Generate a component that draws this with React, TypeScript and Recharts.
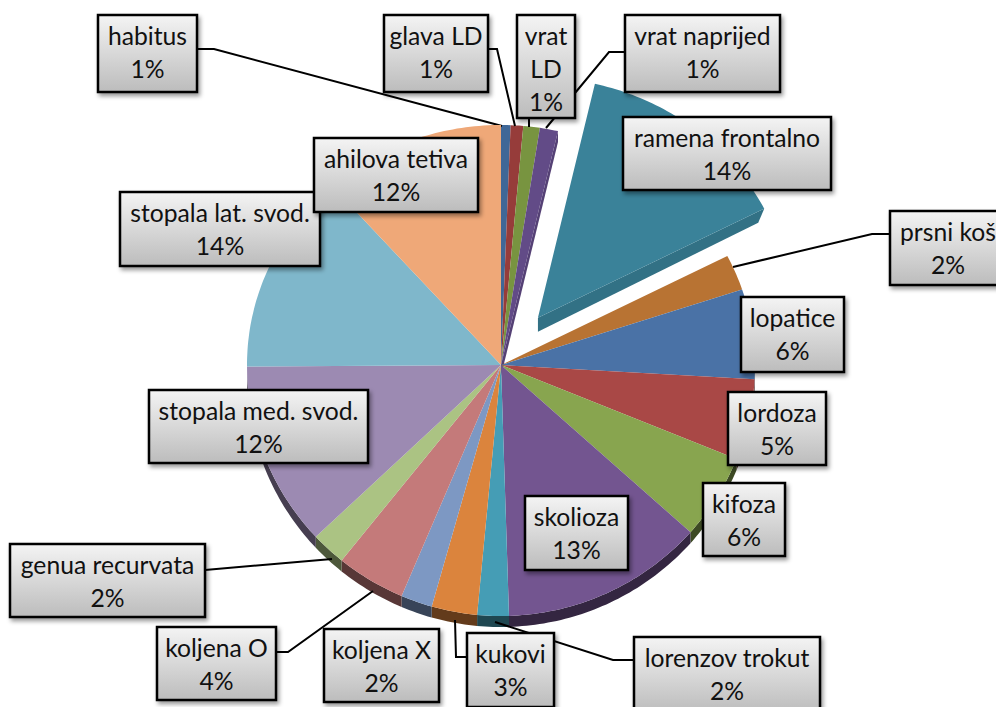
import { Pie, PieChart } from "recharts";

const NAMES = [
  "habitus", "glava LD", "vrat LD", "vrat naprijed", "ramena frontalno", "prsni koš",
  "lopatice", "lordoza", "kifoza", "skolioza", "lorenzov trokut", "kukovi",
  "koljena X", "koljena O", "genua recurvata", "stopala med. svod.", "stopala lat. svod.", "ahilova tetiva",
];
const VALUES = [0.6, 0.8, 1.05, 1.15, 13.9, 2.4, 6.0, 5.2, 5.5, 12.9, 2.0, 2.9, 2.0, 4.4, 2.2, 11.9, 13.5, 11.6];
const COLORS = [
  "#3f6797", "#963c3a", "#789440", "#624b87", "#3a8299", "#b87333",
  "#4a72a6", "#a94846", "#88a54f", "#735590", "#459db5", "#db843d",
  "#7d98c3", "#c47a7a", "#abc383", "#9c8ab2", "#7fb7cb", "#efa878",
];

const data = NAMES.map((name, i) => ({ name, value: VALUES[i] }));

// label boxes: x, y, width, height
const BOXES = [
  [98, 15, 99, 77], [384, 15, 104, 77], [517, 15, 58, 103], [625, 15, 155, 77],
  [623, 117, 208, 73], [890, 211, 116, 74], [741, 297, 103, 75], [728, 392, 98, 73],
  [703, 483, 82, 73], [525, 496, 103, 74], [634, 637, 186, 76], [467, 633, 87, 74],
  [324, 629, 115, 73], [157, 627, 119, 73], [10, 544, 195, 73], [149, 390, 219, 73],
  [120, 192, 200, 74], [314, 138, 164, 74],
];

// leader lines as polylines, only the labels that sit away from their slice
const LEADERS: Record<number, string> = {
  0: "197,49 214,49 502,126",
  1: "488,49 497,49 515,126",
  2: "529,118 529,127",
  3: "625,52 609,52 546,128",
  5: "890,234 872,234 733,267",
  10: "634,660 613,660 495,622",
  11: "467,657 456,657 455,620",
  13: "276,652 288,652 373,591",
  14: "205,570 332,559",
};

const EXPLODED = 4;
const EXPLODE_DIST = 60;
const DEPTH = 11;
const CUT_DEPTH = 14;
const RX = 254;
const RY_UP = 240;
const RY_DOWN = 251;

function shade(hex: string, f: number) {
  const n = parseInt(hex.slice(1), 16);
  const c = (s: number) => Math.round(((n >> s) & 255) * f);
  return `rgb(${c(16)},${c(8)},${c(0)})`;
}

// clock angle in degrees, 0 at the top, going clockwise
function rim(a: number) {
  const t = (a * Math.PI) / 180;
  const y = -Math.cos(t);
  return [RX * Math.sin(t), y * (y > 0 ? RY_DOWN : RY_UP)];
}

function arcPoints(a0: number, a1: number) {
  const pts: number[][] = [];
  const steps = Math.max(2, Math.ceil(a1 - a0));
  for (let i = 0; i <= steps; i++) pts.push(rim(a0 + ((a1 - a0) * i) / steps));
  return pts;
}

const toPath = (pts: number[][]) => "M" + pts.map((p) => `${p[0].toFixed(1)} ${p[1].toFixed(1)}`).join("L") + "Z";

function Slice(props: any) {
  const { cx, cy, startAngle, endAngle, fill, index } = props;
  const a0 = 90 - startAngle;
  const a1 = 90 - endAngle;
  const mid = ((a0 + a1) / 2) * (Math.PI / 180);
  const exploded = index === EXPLODED;
  const ox = cx + (exploded ? EXPLODE_DIST * Math.sin(mid) : 0);
  const oy = cy - (exploded ? EXPLODE_DIST * Math.cos(mid) : 0);

  const top = [[0, 0], ...arcPoints(a0, a1)];

  // outer wall, only on the part of the rim that faces the viewer
  const w0 = Math.max(a0, 90);
  const w1 = Math.min(a1, 270);
  let wall = null;
  if (w1 > w0) {
    const rimPts = arcPoints(w0, w1);
    const lower = rimPts.map((p) => [p[0], p[1] + DEPTH]).reverse();
    wall = <path d={toPath([...rimPts, ...lower])} fill={shade(fill, 0.45)} />;
  }

  // cut wall towards the gap left by the pulled out slice
  let cut = null;
  if (exploded || index === EXPLODED - 1) {
    const e = rim(a1);
    const d = exploded ? CUT_DEPTH : DEPTH;
    const quad = [[0, 0], e, [e[0] - (exploded ? 6 : 0), e[1] + d], [0, d]];
    cut = <path d={toPath(quad)} fill={shade(fill, 0.87)} />;
  }

  return (
    <g>
      <g transform={`translate(${ox} ${oy})`}>
        {cut}
        {wall}
        <path d={toPath(top)} fill={fill} />
      </g>
      {LEADERS[index] && <polyline points={LEADERS[index]} fill="none" stroke="#000" strokeWidth={2} />}
    </g>
  );
}

function BoxLabel(props: any) {
  const { index, value } = props;
  const [x, y, w, h] = BOXES[index];
  const name = NAMES[index];
  // the narrow box wraps its name
  const lines = name === "vrat LD" ? ["vrat", "LD"] : [name];
  const all = [...lines, `${Math.round(value)}%`];
  return (
    <g>
      <rect x={x} y={y} width={w} height={h} fill="url(#boxFill)" stroke="#000" strokeWidth={2.5} filter="url(#boxShadow)" />
      {all.map((t, i) => (
        <text
          key={i}
          x={x + w / 2}
          y={y + 30 + i * 33}
          textAnchor="middle"
          fontFamily="Lato, sans-serif"
          fontSize={24.7}
          fill="#111"
        >
          {t}
        </text>
      ))}
    </g>
  );
}

export default function App() {
  return (
    <div style={{ position: "absolute", left: 0, top: 0, width: 996, height: 707, overflow: "hidden", background: "#fff" }}>
      <PieChart width={996} height={707} margin={{ top: 0, right: 0, bottom: 0, left: 0 }}>
        <defs>
          <linearGradient id="boxFill" x1="0" y1="0" x2="0" y2="1">
            <stop offset="0%" stopColor="#f4f4f4" />
            <stop offset="100%" stopColor="#bcbcbc" />
          </linearGradient>
          <filter id="boxShadow" x="-10%" y="-10%" width="125%" height="130%">
            <feDropShadow dx="2" dy="3" stdDeviation="2" floodColor="#000" floodOpacity="0.4" />
          </filter>
        </defs>
        <Pie
          data={data}
          dataKey="value"
          nameKey="name"
          cx={501}
          cy={365}
          innerRadius={0}
          outerRadius={254}
          startAngle={90}
          endAngle={-270}
          stroke="none"
          isAnimationActive={false}
          labelLine={false}
          label={(p: any) => <BoxLabel {...p} />}
          shape={(p: any) => <Slice {...p} fill={COLORS[p.index]} />}
        />
      </PieChart>
    </div>
  );
}
